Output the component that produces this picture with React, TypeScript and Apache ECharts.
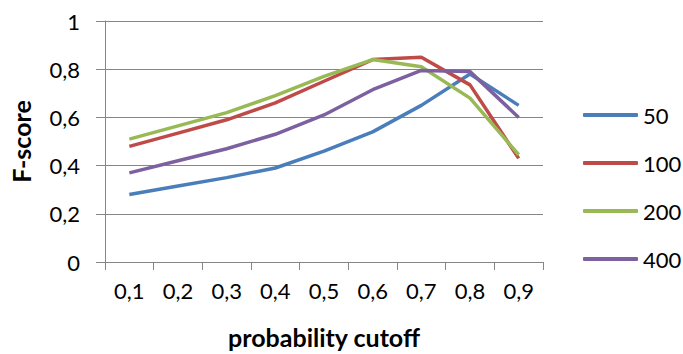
import React, { useEffect, useRef } from "react";
import * as echarts from "echarts";

const categories = ["0,1", "0,2", "0,3", "0,4", "0,5", "0,6", "0,7", "0,8", "0,9"];
const seriesNames = ["50", "100", "200", "400"];
const s50 = [0.28, 0.315, 0.35, 0.39, 0.46, 0.54, 0.65, 0.78, 0.65];
const s100 = [0.48, 0.535, 0.59, 0.66, 0.75, 0.84, 0.85, 0.735, 0.43];
const s200 = [0.51, 0.565, 0.62, 0.69, 0.77, 0.84, 0.81, 0.68, 0.445];
const s400 = [0.37, 0.42, 0.47, 0.53, 0.61, 0.715, 0.795, 0.79, 0.6];
const colors = ["#4A7EBB", "#BE4B48", "#98B954", "#7D60A0"];

const FONT = "Lato";

export default function App() {
  const ref = useRef<HTMLDivElement>(null);
  useEffect(() => {
    if (!ref.current) return;
    const chart = echarts.init(ref.current, null, { renderer: "svg" });
    const data = [s50, s100, s200, s400];
    chart.setOption({
      animation: false,
      color: colors,
      textStyle: { fontFamily: FONT },
      grid: { left: 104, right: 140, top: 21, bottom: 89, containLabel: false },
      xAxis: {
        type: "category",
        data: categories,
        boundaryGap: true,
        name: "probability cutoff",
        nameLocation: "middle",
        nameGap: 62,
        nameTextStyle: { fontFamily: FONT, fontWeight: "bold", fontSize: 25, color: "#000" },
        axisLine: { lineStyle: { color: "#868686", width: 1 } },
        axisTick: { show: true, length: 8, lineStyle: { color: "#868686" } },
        axisLabel: { fontFamily: FONT, fontSize: 22, color: "#000", margin: 17 },
        splitLine: { show: false },
      },
      yAxis: {
        type: "value",
        min: 0,
        max: 1,
        interval: 0.2,
        name: "F-score",
        nameLocation: "middle",
        nameRotate: 90,
        nameGap: 72,
        nameTextStyle: { fontFamily: FONT, fontWeight: "bold", fontSize: 25, color: "#000" },
        axisLine: { show: true, lineStyle: { color: "#868686", width: 1 } },
        axisTick: { show: true, length: 9, lineStyle: { color: "#868686" } },
        axisLabel: {
          fontFamily: FONT,
          fontSize: 22,
          color: "#000",
          margin: 25,
          formatter: (v: number) => String(Math.round(v * 10) / 10).replace(".", ","),
        },
        splitLine: { show: true, lineStyle: { color: "#868686", width: 1 } },
      },
      legend: {
        orient: "vertical",
        left: 583,
        top: 104,
        padding: 0,
        itemWidth: 55,
        itemHeight: 4,
        itemGap: 26,
        icon: "roundRect",
        data: seriesNames,
        textStyle: { fontFamily: FONT, fontSize: 22, color: "#000" },
      },
      series: seriesNames.map((n, i) => ({
        name: n,
        type: "line",
        data: data[i],
        showSymbol: false,
        symbol: "none",
        lineStyle: { width: 3.5, color: colors[i] },
        itemStyle: { color: colors[i] },
      })),
    });
    return () => chart.dispose();
  }, []);
  return <div ref={ref} style={{ width: 683, height: 354, position: "absolute", left: 0, top: 0 }} />;
}
